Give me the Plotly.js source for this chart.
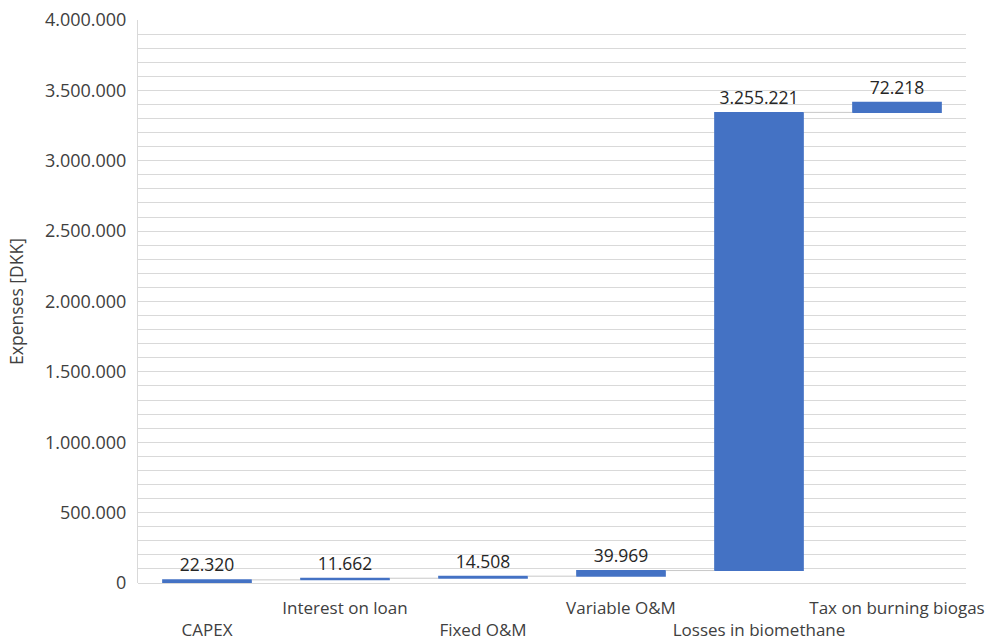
<!DOCTYPE html>
<html>
<head>
<meta charset="utf-8">
<script src="https://cdn.plot.ly/plotly-3.0.1.min.js"></script>
<style>html,body{margin:0;padding:0;background:#fff}#chart{width:990px;height:642px}</style>
</head>
<body>
<div id="chart"></div>
<script>
// Expense components (DKK), stacked as a waterfall
const categories = ["CAPEX", "Interest on loan", "Fixed O&M", "Variable O&M", "Losses in biomethane", "Tax on burning biogas"];
const expenses = [22320, 11662, 14508, 39969, 3255221, 72218];
// Labels alternate between two rows so the long names do not collide
const tickLabels = ["<br>CAPEX", "Interest on loan", "<br>Fixed O&M", "Variable O&M", "<br>Losses in biomethane", "Tax on burning biogas"];

const fontFamily = "Open Sans, sans-serif";
const blue = "#4472C4";

const trace = {
  type: "waterfall",
  x: categories,
  y: expenses,
  measure: categories.map(() => "relative"),
  text: expenses.map(v => v.toLocaleString("de-DE")),
  textposition: "outside",
  textfont: {family: fontFamily, size: 17.5, color: "#262626"},
  cliponaxis: false,
  increasing: {marker: {color: blue}},
  decreasing: {marker: {color: blue}},
  connector: {mode: "between", line: {color: "#c8c8c8", width: 1}},
  hoverinfo: "skip"
};

const layout = {
  width: 990,
  height: 642,
  margin: {l: 138, r: 24, t: 20, b: 59},
  paper_bgcolor: "#fff",
  plot_bgcolor: "#fff",
  separators: ",.",
  showlegend: false,
  waterfallgap: 0.35,
  font: {family: fontFamily, size: 17, color: "#404040"},
  xaxis: {
    type: "category",
    tickmode: "array",
    tickvals: categories,
    ticktext: tickLabels,
    tickangle: 0,
    showgrid: false,
    showline: false,
    ticks: "",
    ticklabelstandoff: 13,
    tickfont: {family: fontFamily, size: 17, color: "#404040"},
    automargin: false
  },
  yaxis: {
    range: [0, 4000000],
    dtick: 500000,
    tickformat: ",d",
    showgrid: true,
    gridcolor: "#d9d9d9",
    gridwidth: 1,
    minor: {dtick: 100000, showgrid: true, gridcolor: "#d9d9d9", gridwidth: 1},
    showline: true,
    linecolor: "#d9d9d9",
    linewidth: 1,
    zeroline: true,
    zerolinecolor: "#d9d9d9",
    zerolinewidth: 1,
    ticks: "",
    ticklen: 0,
    ticklabelstandoff: 7,
    tickfont: {family: fontFamily, size: 18, color: "#404040"},
    title: {text: "Expenses [DKK]", font: {family: fontFamily, size: 17.5, color: "#404040"}, standoff: 16},
    automargin: false
  }
};

Plotly.newPlot("chart", [trace], layout, {displayModeBar: false, staticPlot: true});
</script>
</body>
</html>
